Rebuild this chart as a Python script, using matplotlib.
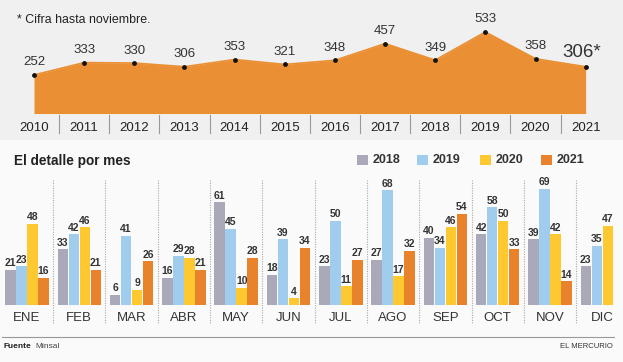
import matplotlib
matplotlib.use("Agg")
import matplotlib.pyplot as plt
from matplotlib.patches import Rectangle
import numpy as np

# ---------------- data ----------------
years = [2010, 2011, 2012, 2013, 2014, 2015, 2016, 2017, 2018, 2019, 2020, 2021]
totals = [252, 333, 330, 306, 353, 321, 348, 457, 349, 533, 358, 306]
total_labels = ["252", "333", "330", "306", "353", "321", "348", "457", "349", "533", "358", "306*"]

months = ["ENE", "FEB", "MAR", "ABR", "MAY", "JUN", "JUL", "AGO", "SEP", "OCT", "NOV", "DIC"]
series_years = ["2018", "2019", "2020", "2021"]
m2018 = [21, 33, 6, 16, 61, 18, 23, 27, 40, 42, 39, 23]
m2019 = [23, 42, 41, 29, 45, 39, 50, 68, 34, 58, 69, 35]
m2020 = [48, 46, 9, 28, 10, 4, 11, 17, 46, 50, 42, 47]
m2021 = [16, 21, 26, 21, 28, 34, 27, 32, 54, 33, 14, None]

colors = ["#a9a9b9", "#a0cdee", "#fdc830", "#e8832b"]
area_color = "#ea8f33"

FONT = ["Liberation Sans", "DejaVu Sans"]
plt.rcParams["font.family"] = FONT

W, H = 623, 362
fig = plt.figure(figsize=(W / 100, H / 100), dpi=100, facecolor="#fafafa")


def px_axes(x0, y0, x1, y1, **kw):
    """Axes from pixel box (top-left origin)."""
    return fig.add_axes([x0 / W, 1 - y1 / H, (x1 - x0) / W, (y1 - y0) / H], **kw)


# ---------------- top area chart ----------------
axt = px_axes(0, 0, W, 140)
x_step = 50.15
axt.set_xlim(2010 - 34 / x_step, 2010 + (W - 34) / x_step)
axt.set_ylim(-173, 742)
axt.fill_between(years, totals, 0, color=area_color, lw=0)
axt.plot(years, totals, color=area_color, lw=1.2)
axt.scatter(years, totals, s=6, color="#111111", zorder=3)
for yr, v, lab in zip(years, totals, total_labels):
    if lab.endswith("*"):
        axt.annotate(lab, (yr, v), xytext=(-3, 10), textcoords="offset points",
                     ha="center", va="center", fontsize=13.5, color="#333333")
    else:
        axt.annotate(lab, (yr, v), xytext=(0, 9), textcoords="offset points",
                     ha="center", va="center", fontsize=9.5, color="#333333")
for yr in years:
    axt.text(yr, -94, str(yr), ha="center", va="center", fontsize=9.5, color="#222222")
for yr in years[:-1]:
    axt.plot([yr + 0.5, yr + 0.5], [-10, -127], color="#999999", lw=0.8)
axt.text(2010 - 17 / x_step, 610, "* Cifra hasta noviembre.", ha="left", va="center",
         fontsize=8.9, color="#222222")
axt.axis("off")
axt.add_patch(Rectangle((0, 0), 1, 1, transform=axt.transAxes, color="#f0f0f0", zorder=-5))

# ---------------- bottom bar chart ----------------
axb = px_axes(0, 175, W, 305)
g_step = 52.3
axb.set_xlim(-27 / g_step, (W - 27) / g_step)
px_per_unit = 1.685
axb.set_ylim(0, 130 / px_per_unit)
axb.axis("off")

x = np.arange(len(months))
bw = 0.2
offs = [-1.5, -0.5, 0.5, 1.5]
for s, (vals, col, off) in enumerate(zip([m2018, m2019, m2020, m2021], colors, offs)):
    xs = [xi + off * 0.21 for xi, v in zip(x, vals) if v is not None]
    vs = [v for v in vals if v is not None]
    axb.bar(xs, vs, width=bw, color=col, lw=0)
    for xi, v in zip(xs, vs):
        axb.text(xi, v + 1.0, str(v), ha="center", va="bottom", fontsize=7.5,
                 fontweight="bold", color="#333333")

for i, m in enumerate(months):
    axb.text(i, -7.5, m, ha="center", va="center", fontsize=9.5, color="#333333")
for i in range(len(months) - 1):
    axb.plot([i + 0.5, i + 0.5], [74, -11], color="#aaaaaa", lw=0.8,
             ls=(0, (1, 1.2)), clip_on=False)

# ---------------- overlay: title, legend, footer ----------------
ov = px_axes(0, 0, W, H)
ov.set_xlim(0, W)
ov.set_ylim(H, 0)
ov.axis("off")
ov.patch.set_alpha(0)

ov.text(14, 161, "El detalle por mes", ha="left", va="center", fontsize=9.8,
        fontweight="bold", color="#222222")
leg_x = [357, 417, 480, 541]
for lx, lab, col in zip(leg_x, series_years, colors):
    ov.add_patch(Rectangle((lx, 155), 11, 10, color=col, lw=0))
    ov.text(lx + 16, 160, lab, ha="left", va="center", fontsize=9,
            fontweight="bold", color="#333333")

ov.plot([2, 614], [336.5, 336.5], color="#999999", lw=0.8)
ov.text(4, 347, "Fuente", ha="left", va="center", fontsize=6, fontweight="bold",
        color="#222222")
ov.text(35, 347, "Minsal", ha="left", va="center", fontsize=6, color="#444444")
ov.text(613, 347, "EL MERCURIO", ha="right", va="center", fontsize=5.5, color="#333333")

fig.savefig("out.png", dpi=100, facecolor=fig.get_facecolor())
